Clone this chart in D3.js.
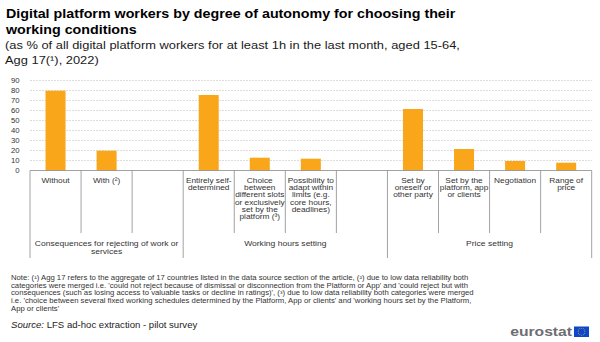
<!DOCTYPE html>
<html><head><meta charset="utf-8">
<script src="https://cdn.jsdelivr.net/npm/d3@7"></script>
<style>body{margin:0;background:#fff}svg{display:block}text{font-family:"Liberation Sans",Arial,sans-serif}</style>
</head><body>
<svg id="c" width="600" height="342"></svg>
<script>
const categories = ["Without","With (²)","","Entirely self-\ndetermined","Choice\nbetween\ndifferent slots\nor exclusively\nset by the\nplatform (³)","Possibility to\nadapt within\nlimits (e.g.\ncore hours,\ndeadlines)","","Set by\noneself or\nother party","Set by the\nplatform, app\nor clients","Negotiation","Range of\nprice"];
const values = [79.8, 19.8, null, 75.5, 12.8, 11.8, null, 61.5, 21.5, 9.5, 7.8];
const groups = ["Consequences for rejecting of work or\nservices","Working hours setting","Price setting"];
const groupSpans = [[0,2],[3,6],[7,10]];
const yTicks = [0,10,20,30,40,50,60,70,80,90];
const titleLines = ["Digital platform workers by degree of autonomy for choosing their","working conditions"];
const subtitleLines = ["(as % of all digital platform workers for at least 1h in the last month, aged 15-64,","Agg 17(¹), 2022)"];
const noteLines = ["Note: (¹) Agg 17 refers to the aggregate of 17 countries listed in the data source section of the article, (²) due to low data reliability both",
"categories were merged i.e. 'could not reject because of dismissal or disconnection from the Platform or App' and 'could reject but with",
"consequences (such as losing access to valuable  tasks or decline in ratings)', (³) due to low data reliability both categories were merged",
"i.e. 'choice between several fixed working schedules determined by the Platform, App or clients' and 'working hours set by the Platform,",
"App or clients'"];

const SX = 1.17;
const svg = d3.select("#c");
function txt(x, y, s, opt) {
  const g = svg.append("g").attr("transform", `translate(${x},${y}) scale(${SX},1)`);
  const t = g.append("text").attr("x",0).attr("y",0)
    .attr("font-size", opt.size).attr("fill", opt.fill || "#333")
    .attr("text-anchor", opt.anchor || "start")
    .attr("font-weight", opt.weight || "normal");
  if (opt.style) t.attr("font-style", opt.style);
  t.text(s);
  return t;
}

const x = d3.scaleBand().domain(d3.range(categories.length)).range([30, 591.7]).padding(0);
const y = d3.scaleLinear().domain([0, 90]).range([170.5, 80.5]);

// title & subtitle
titleLines.forEach((l,i)=>txt(6, 18 + i*16, l, {size:12.2, weight:"bold", fill:"#000"}));
subtitleLines.forEach((l,i)=>txt(5, 48.5 + i*15.5, l, {size:11, fill:"#1a1a1a"}));

// gridlines
svg.append("g").selectAll("line").data(yTicks.filter(d=>d>0)).join("line")
  .attr("x1", 30).attr("x2", 592).attr("y1", d=>y(d)).attr("y2", d=>y(d))
  .attr("stroke", "#d4d4d4").attr("stroke-width", 0.8).attr("stroke-dasharray", "2,1");

// y tick labels
yTicks.forEach(d => txt(19.5, y(d) + 2.4, d, {size:6.6, anchor:"end", fill:"#333"}));

// bars
svg.append("g").selectAll("rect").data(values.map((v,i)=>({v,i})).filter(d=>d.v!=null)).join("rect")
  .attr("x", d => x(d.i) + x.bandwidth()/2 - 10)
  .attr("width", 20)
  .attr("y", d => y(d.v))
  .attr("height", d => y(0) - y(d.v))
  .attr("fill", "#faa61a");

// axis line
svg.append("line").attr("x1",30).attr("x2",591.7).attr("y1",y(0)).attr("y2",y(0)).attr("stroke","#8a8a8a").attr("stroke-width",0.8);

// category separators
const bounds = d3.range(categories.length + 1).map(i => i < categories.length ? x(i) : x(categories.length-1) + x.bandwidth());
const groupBounds = new Set([0, 3, 7, 11]);
bounds.forEach((bx, i) => {
  svg.append("line").attr("x1", bx).attr("x2", bx).attr("y1", y(0)).attr("y2", groupBounds.has(i) ? 258 : 233)
    .attr("stroke", "#8a8a8a").attr("stroke-width", 0.8);
});

// category labels
categories.forEach((c, i) => {
  c.split("\n").forEach((l, j) => {
    if (l) txt(x(i) + x.bandwidth()/2, 182.6 + j*7.3, l, {size:7.1, anchor:"middle", fill:"#333"});
  });
});

// group labels
groups.forEach((g, i) => {
  const [a, b] = groupSpans[i];
  const cx = (x(a) + x(b) + x.bandwidth()) / 2;
  g.split("\n").forEach((l, j) => txt(cx, 246 + j*8.3, l, {size:7.3, anchor:"middle", fill:"#333"}));
});

// notes
noteLines.forEach((l, i) => txt(11, 280 + i*7.7, l, {size:6.6, fill:"#333"}));

// source
const sg = svg.append("g").attr("transform", `translate(11,328) scale(${SX},1)`);
const st = sg.append("text").attr("font-size", 8.2).attr("fill", "#222");
st.append("tspan").attr("font-style","italic").text("Source:");
st.append("tspan").text(" LFS ad-hoc extraction - pilot survey");

// eurostat logo
txt(572, 336, "eurostat", {size:13.4, weight:"bold", anchor:"end", fill:"#6d6e71"});
svg.append("rect").attr("x",574).attr("y",326.5).attr("width",15).attr("height",10.5).attr("fill","#0e47cb");
d3.range(12).forEach(k => {
  const a = k/12*2*Math.PI;
  svg.append("circle").attr("cx", 581.5 + 3.4*Math.cos(a)).attr("cy", 331.75 + 3.4*Math.sin(a)).attr("r",0.45).attr("fill","#ffdd00");
});
</script>
</body></html>
